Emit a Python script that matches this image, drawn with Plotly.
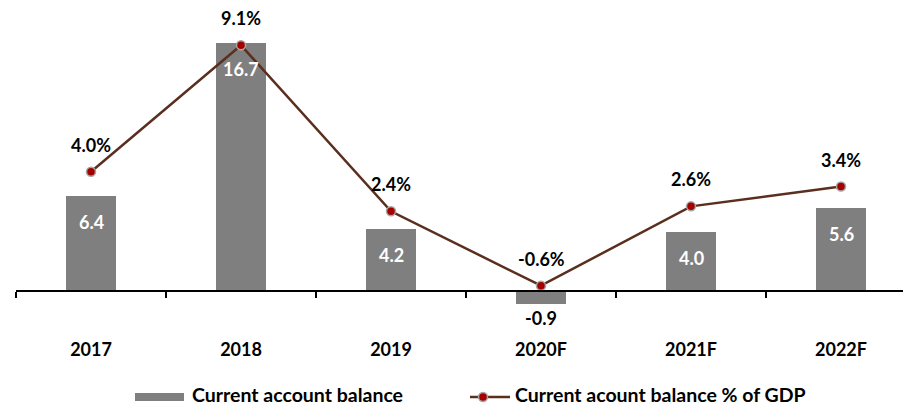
import plotly.graph_objects as go

# ---- data ----
categories = ["2017", "2018", "2019", "2020F", "2021F", "2022F"]
balance = [6.4, 16.7, 4.2, -0.9, 4.0, 5.6]
balance_pct = [4.0, 9.1, 2.4, -0.6, 2.6, 3.4]
bar_labels = ["6.4", "16.7", "4.2", "-0.9", "4.0", "5.6"]
pct_labels = ["4.0%", "9.1%", "2.4%", "-0.6%", "2.6%", "3.4%"]
series_names = ["Current account balance", "Current acount balance % of GDP"]

# ---- layout geometry ----
W, H = 903, 407
L, R = 16, 0
T, B = 10, 320  # pixel top / bottom of plot area
FONT = "Lato"
BAR_COLOR = "#7F7F7F"
LINE_COLOR = "#5A2F1E"
MARK_COLOR = "#A50000"
MARK_EDGE = "#A6A6A6"


def px2x(px):
    return (px - L) / (W - L - R)


def py2y(py):
    return (B - py) / (B - T)


fig = go.Figure()
fig.add_trace(go.Bar(
    x=categories, y=balance, name=series_names[0],
    marker=dict(color=BAR_COLOR, line=dict(width=0)), width=0.33, yaxis="y",
))
fig.add_trace(go.Scatter(
    x=categories, y=balance_pct, name=series_names[1], mode="lines+markers",
    line=dict(color=LINE_COLOR, width=2.5),
    marker=dict(color=MARK_COLOR, size=9, line=dict(color=MARK_EDGE, width=1.5)),
    yaxis="y2",
))

annotations = []
for i, (v, t) in enumerate(zip(balance, bar_labels)):
    annotations.append(dict(
        x=i, y=v, xref="x", yref="y", text="<b>%s</b>" % t, showarrow=False,
        yanchor="middle", yshift=(-26 if v >= 0 else -14),
        font=dict(family=FONT, size=18, color="white" if v >= 0 else "black"),
    ))
for i, (v, t) in enumerate(zip(balance_pct, pct_labels)):
    annotations.append(dict(
        x=i, y=v, xref="x", yref="y2", text="<b>%s</b>" % t, showarrow=False,
        yanchor="middle", yshift=27,
        font=dict(family=FONT, size=18, color="black"),
    ))

# manual legend
annotations.append(dict(
    x=px2x(191), y=py2y(394.5), xref="paper", yref="paper", xanchor="left", yanchor="middle",
    text="<b>%s</b>" % series_names[0], showarrow=False, borderpad=0,
    font=dict(family=FONT, size=19.5, color="black"),
))
annotations.append(dict(
    x=px2x(514), y=py2y(394.5), xref="paper", yref="paper", xanchor="left", yanchor="middle",
    text="<b>%s</b>" % series_names[1], showarrow=False, borderpad=0,
    font=dict(family=FONT, size=19.5, color="black"),
))
shapes = [
    dict(type="rect", xref="paper", yref="paper", x0=px2x(135), x1=px2x(184),
         y0=py2y(401), y1=py2y(393), fillcolor=BAR_COLOR, line=dict(width=0)),
    dict(type="line", xref="paper", yref="paper", x0=px2x(470), x1=px2x(510),
         y0=py2y(397), y1=py2y(397), line=dict(color=LINE_COLOR, width=2.5)),
    dict(type="circle", xref="paper", yref="paper", xsizemode="pixel", ysizemode="pixel",
         xanchor=px2x(483), yanchor=py2y(397), x0=-4.5, x1=4.5, y0=-4.5, y1=4.5,
         fillcolor=MARK_COLOR, line=dict(color=MARK_EDGE, width=1.5)),
]

bar_px_per_unit = 14.83
pct_px_per_unit = 24.78
zero_bar_px = 291
zero_pct_px = 270.8

fig.update_layout(
    width=W, height=H,
    margin=dict(l=L, r=R, t=T, b=H - B, pad=0),
    paper_bgcolor="white", plot_bgcolor="white",
    showlegend=False,
    bargap=0,
    xaxis=dict(
        type="category", range=[-0.5, -0.5 + (W - L - R) / 150.0],
        anchor="free", position=(B - zero_bar_px) / (B - T),
        showline=True, linecolor="black", linewidth=1.5,
        ticks="outside", tickson="boundaries", ticklen=6, tickwidth=1.5, tickcolor="black",
        ticklabelstandoff=43,
        tickfont=dict(family=FONT, size=18, color="black", weight="bold"),
        showgrid=False, zeroline=False,
    ),
    yaxis=dict(
        range=[-(B - zero_bar_px) / bar_px_per_unit, (zero_bar_px - T) / bar_px_per_unit],
        visible=False, showgrid=False, zeroline=False,
    ),
    yaxis2=dict(
        range=[-(B - zero_pct_px) / pct_px_per_unit, (zero_pct_px - T) / pct_px_per_unit],
        overlaying="y", visible=False, showgrid=False, zeroline=False,
    ),
    annotations=annotations,
    shapes=shapes,
)

fig.write_html(
    "out.html",
    config={"displayModeBar": False},
    post_script="document.body.style.margin='0';document.body.style.overflow='hidden';",
)
